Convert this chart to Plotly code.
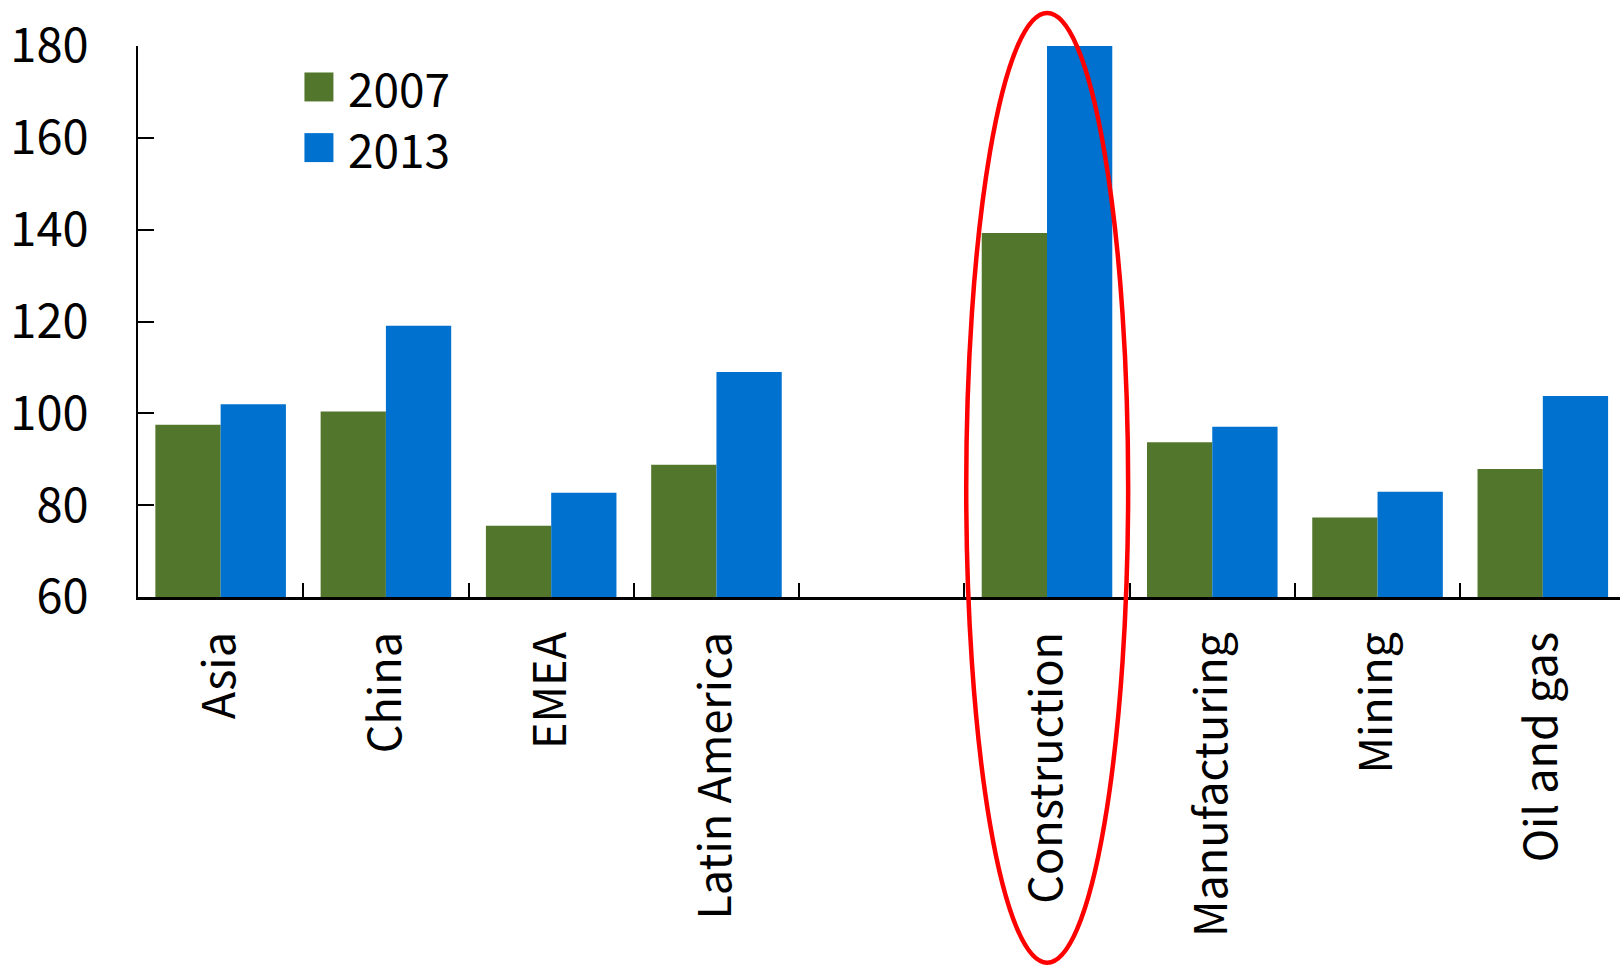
import plotly.graph_objects as go

# Categories: regions, a blank spacer slot, then sectors
categories = ["Asia", "China", "EMEA", "Latin America", " ",
              "Construction", "Manufacturing", "Mining", "Oil and gas"]
values_2007 = [97.5, 100.4, 75.5, 88.8, None, 139.3, 93.7, 77.3, 87.9]
values_2013 = [102.0, 119.1, 82.7, 109.0, None, 180.0, 97.1, 82.9, 103.8]
series_names = ["2007", "2013"]
y_ticks = [60, 80, 100, 120, 140, 160, 180]

FONT = "Noto Sans CJK KR"
FS_NUM = 47
FS_LEG = 46
FS_CAT = 45
GREEN = "#52772C"
BLUE = "#0071CE"
colors = [GREEN, BLUE]

fig = go.Figure()
for name, vals, col in zip(series_names, [values_2007, values_2013], colors):
    fig.add_trace(go.Bar(name=name, x=categories, y=vals,
                         marker=dict(color=col, line=dict(width=0))))

W, H = 1620, 966
L, R, T, B = 137.5, 0, 45.5, 369
plot_w = W - L - R
plot_h = H - T - B


def px_to_paper_x(px):
    return (px - L) / plot_w


def px_to_paper_y(py):
    return (H - B - py) / plot_h


# Hand-built legend with large square swatches
shapes = []
annotations = []
for i, (name, col) in enumerate(zip(series_names, colors)):
    top = 72 + i * 60.7
    shapes.append(dict(type="rect", xref="paper", yref="paper",
                       x0=px_to_paper_x(304), x1=px_to_paper_x(333),
                       y0=px_to_paper_y(top + 29), y1=px_to_paper_y(top),
                       fillcolor=col, line=dict(width=0)))
    annotations.append(dict(xref="paper", yref="paper",
                            x=px_to_paper_x(346), y=px_to_paper_y(top + 14.5),
                            xanchor="left", yanchor="middle", showarrow=False,
                            height=52, valign="middle",
                            text=name, font=dict(family=FONT, size=FS_LEG, color="black")))

# Highlight ellipse around the construction sector
shapes.append(dict(
    type="circle", xref="paper", yref="paper",
    x0=px_to_paper_x(966), x1=px_to_paper_x(1128),
    y0=px_to_paper_y(963), y1=px_to_paper_y(12.5),
    line=dict(color="#FF0000", width=4.5), fillcolor="rgba(0,0,0,0)",
    layer="above",
))

fig.update_layout(
    width=W, height=H,
    margin=dict(l=L, r=R, t=T, b=B, pad=0, autoexpand=False),
    paper_bgcolor="white", plot_bgcolor="white",
    barmode="group", bargap=0.21, bargroupgap=0,
    font=dict(family=FONT, size=FS_NUM, color="black"),
    showlegend=False,
    xaxis=dict(
        type="category", range=[-0.5, 8.467], automargin=False,
        showline=True, linecolor="black", linewidth=3,
        ticks="inside", tickson="boundaries", ticklen=14, tickwidth=2, tickcolor="black",
        tickangle=-90, tickfont=dict(size=FS_CAT, family=FONT),
        ticklabelstandoff=14,
        showgrid=False, zeroline=False,
    ),
    yaxis=dict(
        range=[60, 180], tickvals=y_ticks, automargin=False,
        showline=True, linecolor="black", linewidth=2,
        ticks="inside", ticklen=16, tickwidth=2, tickcolor="black",
        tickfont=dict(size=FS_NUM, family=FONT),
        ticklabelstandoff=38,
        showgrid=False, zeroline=False,
    ),
    shapes=shapes,
    annotations=annotations,
)

fig.write_html("out.html")
